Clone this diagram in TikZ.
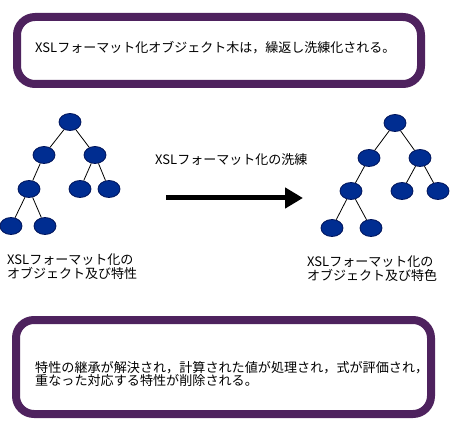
\documentclass[tikz,border=0pt]{standalone}
\usepackage{fontspec}
\newfontfamily\jp{Noto Sans CJK JP}
\usetikzlibrary{arrows.meta,shapes.geometric}
\definecolor{boxpurple}{RGB}{78,34,94}
\definecolor{nodeblue}{RGB}{0,45,145}
\definecolor{nodeedge}{RGB}{0,20,90}
\tikzset{
  frame/.style={draw=boxpurple, line width=8pt, rounded corners=18pt, fill=white},
  tn/.style={ellipse, draw=nodeedge, fill=nodeblue, line width=0.8pt, minimum width=22pt, minimum height=17pt, inner sep=0pt},
  edge/.style={draw=black, line width=0.8pt},
  lbl/.style={font=\jp\fontsize{13}{14}\selectfont, align=left, inner sep=0pt, text=black},
  bigarrow/.style={line width=5pt, -{Triangle[length=18pt,width=20pt]}}
}
\begin{document}
\begin{tikzpicture}[x=1pt,y=-1pt]
\useasboundingbox (0,0) rectangle (450,422);
% frames
\draw[frame] (17,17) rectangle (421,84);
\node[lbl, anchor=west, font=\jp\fontsize{13}{14}\selectfont] (t1) at (35,48) {XSLフォーマット化オブジェクト木は，繰返し洗練化される。};
\draw[frame] (16,320) rectangle (431,414);
\node[lbl, anchor=west, font=\jp\fontsize{13.1}{12.5}\selectfont] (t2) at (35,374) {特性の継承が解決され，計算された値が処理され，式が評価され，\\重なった対応する特性が削除される。};
% left tree
\node[tn] (a) at (70,122) {};
\node[tn] (b) at (44,155) {};
\node[tn] (c) at (95,155) {};
\node[tn] (d) at (29,189) {};
\node[tn] (e) at (80,189) {};
\node[tn] (f) at (109,189) {};
\node[tn] (g) at (11,226) {};
\node[tn] (h) at (45,226) {};
\draw[edge] (a) -- (b); \draw[edge] (a) -- (c);
\draw[edge] (b) -- (d); \draw[edge] (c) -- (e); \draw[edge] (c) -- (f);
\draw[edge] (d) -- (g); \draw[edge] (d) -- (h);
% right tree
\node[tn] (ra) at (395,123) {};
\node[tn] (rb) at (369,158) {};
\node[tn] (rc) at (420,158) {};
\node[tn] (rd) at (351,191) {};
\node[tn] (re) at (402,191) {};
\node[tn] (rf) at (438,191) {};
\node[tn] (rg) at (332,228) {};
\node[tn] (rh) at (371,228) {};
\draw[edge] (ra) -- (rb); \draw[edge] (ra) -- (rc);
\draw[edge] (rb) -- (rd); \draw[edge] (rc) -- (re); \draw[edge] (rc) -- (rf);
\draw[edge] (rd) -- (rg); \draw[edge] (rd) -- (rh);
% labels
\node[lbl, anchor=north west] (ll) at (7,254) {XSLフォーマット化の\\オブジェクト及び特性};
\node[lbl, anchor=north west] (rl) at (307,256) {XSLフォーマット化の\\オブジェクト及び特色};
\node[lbl, anchor=west] (ml) at (155,160) {XSLフォーマット化の洗練};
% arrow
\coordinate (p1) at (166,198);
\coordinate (p2) at (303,198);
\draw[bigarrow] (p1) -- (p2);
\end{tikzpicture}
\end{document}
